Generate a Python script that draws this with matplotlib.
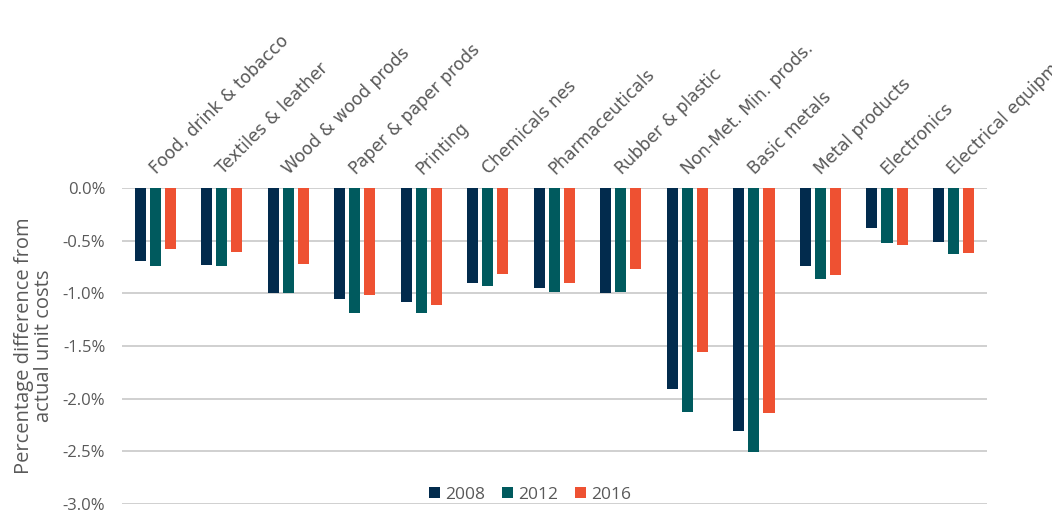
import matplotlib
matplotlib.use("Agg")
import matplotlib.pyplot as plt
import numpy as np
from matplotlib.ticker import FuncFormatter

categories = ["Food, drink & tobacco", "Textiles & leather", "Wood & wood prods",
              "Paper & paper prods", "Printing", "Chemicals nes", "Pharmaceuticals",
              "Rubber & plastic", "Non-Met. Min. prods.", "Basic metals",
              "Metal products", "Electronics", "Electrical equipment"]
series_names = ["2008", "2012", "2016"]
v2008 = [-0.69, -0.73, -1.00, -1.05, -1.08, -0.90, -0.95, -1.00, -1.91, -2.31, -0.74, -0.38, -0.51]
v2012 = [-0.74, -0.74, -1.00, -1.19, -1.19, -0.93, -0.99, -0.99, -2.13, -2.51, -0.86, -0.52, -0.63]
v2016 = [-0.58, -0.61, -0.72, -1.02, -1.11, -0.82, -0.90, -0.77, -1.56, -2.14, -0.83, -0.54, -0.62]
yticks = [0.0, -0.5, -1.0, -1.5, -2.0, -2.5, -3.0]

colors = ["#022B4D", "#005A5E", "#EE5132"]
grey = "#595959"

fig = plt.figure(figsize=(10.52, 5.27), dpi=100)
ax = fig.add_axes([0.116, 0.044, 0.822, 0.599])

x = np.arange(len(categories))
w = 0.166
step = 0.226
for i, (vals, name) in enumerate(zip([v2008, v2012, v2016], series_names)):
    ax.bar(x + (i - 1) * step, vals, width=w, color=colors[i], label=name, zorder=3)

ax.set_xlim(-0.5, len(categories) - 0.5)
ax.set_ylim(-3.0, 0.0)
ax.set_yticks(yticks)
ax.yaxis.set_major_formatter(FuncFormatter(lambda v, p: f"{v:.1f}%"))
ax.tick_params(axis="y", length=0, pad=12, labelsize=12, labelcolor=grey)
for lab in ax.get_yticklabels():
    lab.set_fontfamily("Open Sans")
ax.set_xticks([])
ax.grid(axis="y", color="#D0D0D0", linewidth=1.4, zorder=0)
for s in ax.spines.values():
    s.set_visible(False)

ax.set_ylabel("Percentage difference from\nactual unit costs", fontsize=14.5, color=grey,
              fontfamily="Open Sans", labelpad=6, linespacing=1.05)

for xi, c in zip(x, categories):
    ax.text(xi - 0.04, 0.16, c, rotation=45, rotation_mode="anchor", ha="left", va="center",
            fontsize=12.3, color=grey, fontfamily="DejaVu Sans",
            transform=ax.transData, clip_on=False)

leg = ax.legend(loc="center", bbox_to_anchor=(0.472, 0.028), ncol=3, frameon=False,
                handlelength=0.6, handleheight=0.6, handletextpad=0.3, columnspacing=1.0,
                borderpad=0, prop={"family": "Open Sans", "size": 12.5})
for t in leg.get_texts():
    t.set_color(grey)

fig.savefig("out.png", dpi=100)
